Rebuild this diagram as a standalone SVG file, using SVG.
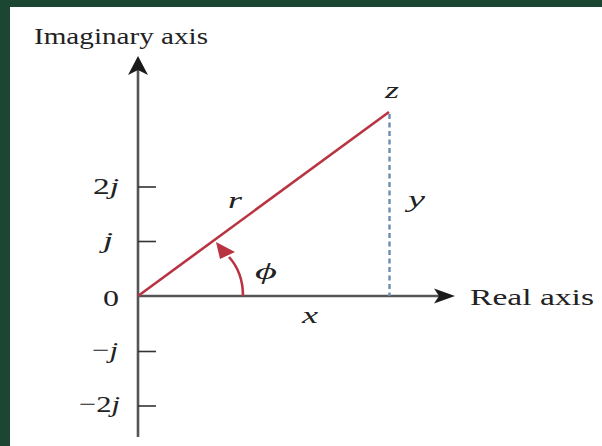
<svg xmlns="http://www.w3.org/2000/svg" width="602" height="446" viewBox="0 0 602 446">
<style>
text{font-family:'Liberation Serif','Times New Roman',Times,serif;fill:#222;font-size:24px}
.i{font-style:italic}
.ax{stroke:#555;stroke-width:2.6;fill:none}
.tk{stroke:#333;stroke-width:1.6}
</style>
<rect x="0" y="0" width="602" height="446" fill="#ffffff"/>
<rect x="0" y="0" width="602" height="7" fill="#1b4632"/>
<rect x="0" y="0" width="10" height="446" fill="#1b4632"/>
<g id="axes">
<line class="ax" x1="138" y1="437" x2="138" y2="68"/>
<path d="M138,56 L148,75 L138,70 L128,75 Z" fill="#1a1a1a"/>
<line class="ax" x1="138" y1="296" x2="440" y2="296" stroke="#444"/>
<path d="M455,296 L434,288.5 L439,296 L434,303.5 Z" fill="#1a1a1a"/>
<line class="tk" x1="138" y1="187" x2="156" y2="187"/>
<line class="tk" x1="138" y1="241.5" x2="156" y2="241.5"/>
<line class="tk" x1="138" y1="351.5" x2="156" y2="351.5"/>
<line class="tk" x1="138" y1="406" x2="156" y2="406"/>
</g>
<g id="vector">
<line x1="138" y1="296" x2="389" y2="112" stroke="#b93442" stroke-width="2.6"/>
<line x1="389.5" y1="114" x2="389.5" y2="296" stroke="#6a8db3" stroke-width="2.4" stroke-dasharray="5,3.5"/>
<path d="M243,296 C243,281 238,267 229,257" fill="none" stroke="#b93442" stroke-width="2.6"/>
<path d="M216,242 L235,252 L220,259 Z" fill="#b93442"/>
</g>
<g id="labels">
<text x="34" y="44" textLength="174" lengthAdjust="spacingAndGlyphs">Imaginary axis</text>
<text x="470" y="305" textLength="124" lengthAdjust="spacingAndGlyphs">Real axis</text>
<text x="93" y="194" textLength="26" lengthAdjust="spacingAndGlyphs">2<tspan class="i">j</tspan></text>
<text class="i" x="103" y="248" textLength="10" lengthAdjust="spacingAndGlyphs">j</text>
<text x="103" y="306" textLength="16" lengthAdjust="spacingAndGlyphs">0</text>
<text x="92" y="358" textLength="26" lengthAdjust="spacingAndGlyphs">−<tspan class="i">j</tspan></text>
<text x="79" y="412" textLength="41" lengthAdjust="spacingAndGlyphs">−2<tspan class="i">j</tspan></text>
<text class="i" x="385" y="98" textLength="14" lengthAdjust="spacingAndGlyphs">z</text>
<text class="i" x="228" y="208" textLength="14" lengthAdjust="spacingAndGlyphs">r</text>
<text class="i" x="408" y="207" textLength="17" lengthAdjust="spacingAndGlyphs">y</text>
<text class="i" x="302" y="323" textLength="16" lengthAdjust="spacingAndGlyphs">x</text>
<text class="i" x="255" y="279" textLength="22" lengthAdjust="spacingAndGlyphs">ϕ</text>
</g>
</svg>
